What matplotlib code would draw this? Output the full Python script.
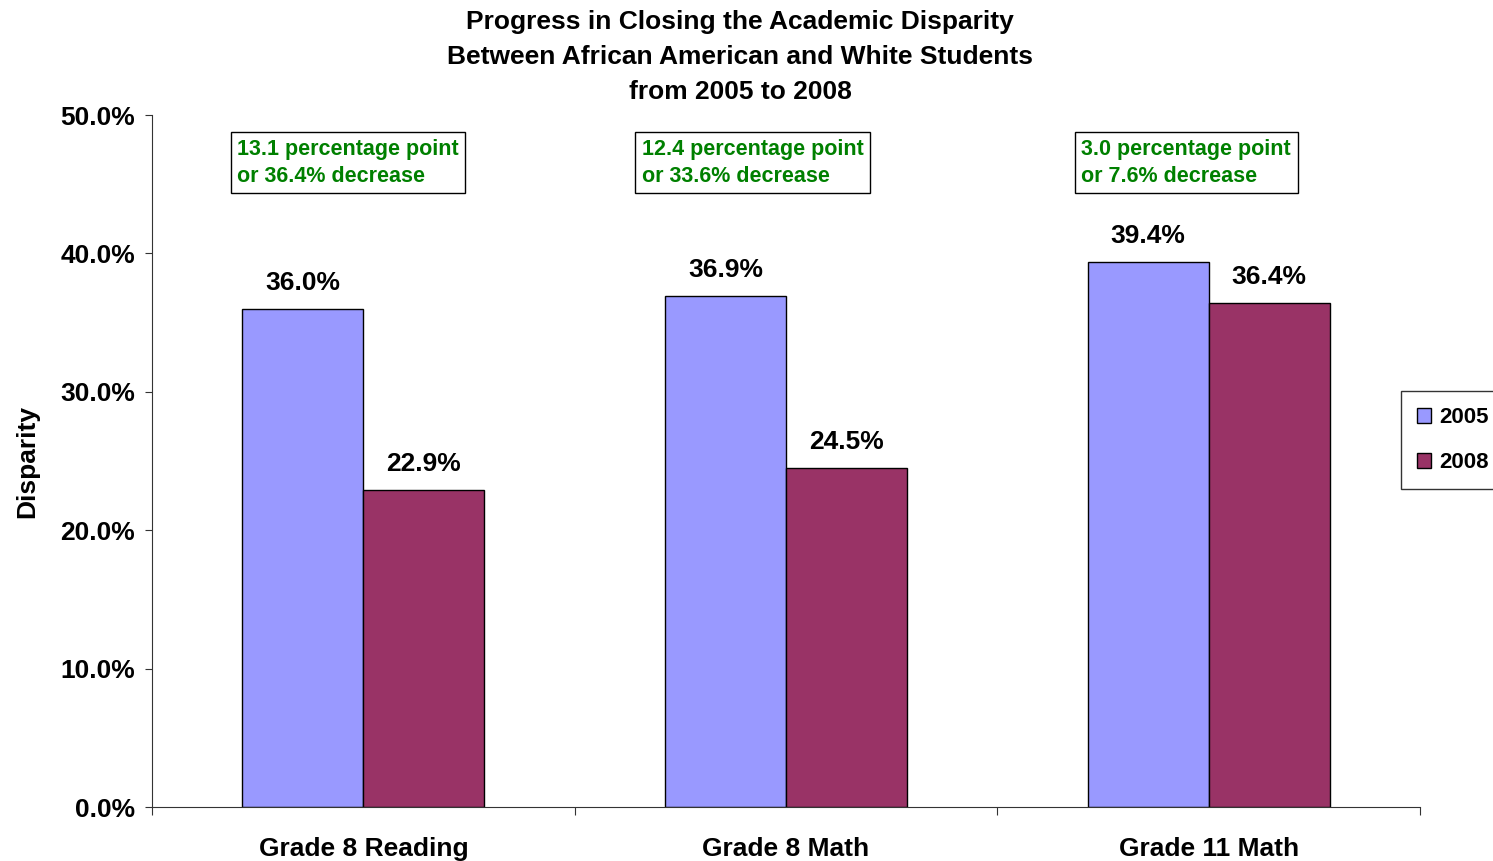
import matplotlib
matplotlib.use("Agg")
import matplotlib.pyplot as plt
import numpy as np

plt.rcParams['font.family'] = ['Liberation Sans', 'DejaVu Sans']
plt.rcParams['font.weight'] = 'bold'

# Datos
categorias = ["Grade 8 Reading", "Grade 8 Math", "Grade 11 Math"]
valores_2005 = [36.0, 36.9, 39.4]
valores_2008 = [22.9, 24.5, 36.4]
notas = ["13.1 percentage point\nor 36.4% decrease",
         "12.4 percentage point\nor 33.6% decrease",
         "3.0 percentage point\nor 7.6% decrease"]

color_2005 = "#9999FF"
color_2008 = "#993366"

fig = plt.figure(figsize=(14.93, 8.61), dpi=100)
ax = fig.add_axes([0.1018, 0.0627, 0.8493, 0.8037])

x = np.arange(len(categorias))
ancho = 0.286
b1 = ax.bar(x - ancho / 2, valores_2005, ancho, color=color_2005, edgecolor='black', linewidth=1, label='2005')
b2 = ax.bar(x + ancho / 2, valores_2008, ancho, color=color_2008, edgecolor='black', linewidth=1, label='2008')

for barras in (b1, b2):
    for b in barras:
        ax.text(b.get_x() + b.get_width() / 2, b.get_height() + 1.0, f"{b.get_height():.1f}%",
                ha='center', va='bottom', fontsize=19, fontweight='bold')

# Cajas de notas
desplaz = [0.19, 0.147, 0.187]
for i, nota in enumerate(notas):
    ax.text(i - 0.5 + desplaz[i] + 0.012, 48.3, nota, ha='left', va='top', fontsize=15.5,
            fontweight='bold', color='#008000', linespacing=1.4,
            bbox=dict(boxstyle='square,pad=0.3', facecolor='white', edgecolor='black', linewidth=1))

ax.set_xlim(-0.5, 2.5)
ax.set_ylim(0, 50)
ax.set_yticks(np.arange(0, 51, 10))
ax.set_yticklabels([f"{v:.1f}%" for v in np.arange(0, 51, 10)], fontsize=19, fontweight='bold')
ax.set_xticks([-0.5, 0.5, 1.5, 2.5])
ax.set_xticklabels([])
ax.set_xticks(x, minor=True)
ax.set_xticklabels(categorias, minor=True, fontsize=19, fontweight='bold')
ax.tick_params(axis='x', which='minor', length=0, pad=21.5)
ax.tick_params(axis='x', which='major', length=6, direction='out', color='#333333')
ax.tick_params(axis='y', length=5, direction='out', color='#333333', pad=7)

for lado in ['top', 'right']:
    ax.spines[lado].set_visible(False)
for lado in ['left', 'bottom']:
    ax.spines[lado].set_color('#333333')

ax.set_ylabel("Disparity", fontsize=19, fontweight='bold', labelpad=15)

fig.text(0.4957, 0.988, "Progress in Closing the Academic Disparity\nBetween African American and White Students\nfrom 2005 to 2008",
         ha='center', va='top', fontsize=19, fontweight='bold', linespacing=1.58)

leg = fig.legend(handles=[b1, b2], loc='upper left', bbox_to_anchor=(0.9384, 0.5459),
                 bbox_transform=fig.transFigure, borderaxespad=0, frameon=True, fancybox=False,
                 edgecolor='black', fontsize=16, labelspacing=1.1, handlelength=0.64,
                 handleheight=0.64, handletextpad=0.35, borderpad=0.72)
leg.get_frame().set_linewidth(1)
for t in leg.get_texts():
    t.set_fontweight('bold')

plt.savefig("out.png", dpi=100)
